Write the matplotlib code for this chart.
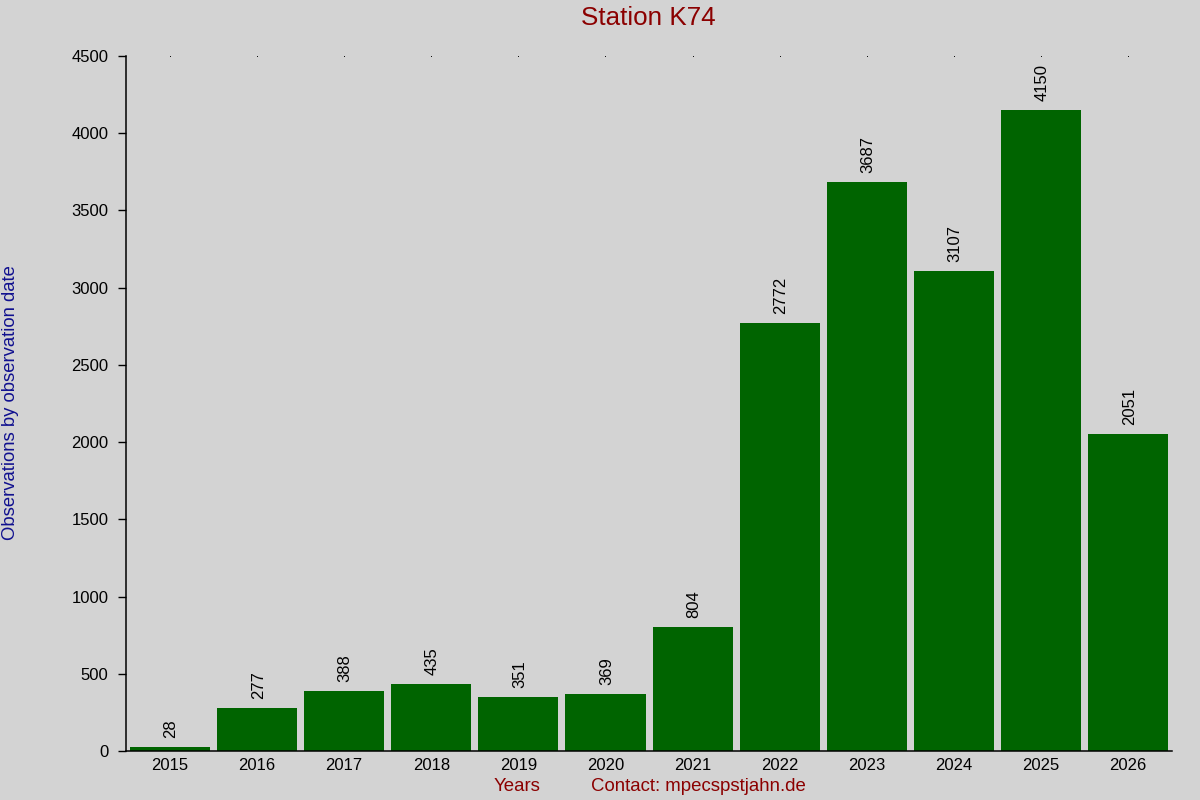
import matplotlib
matplotlib.use("Agg")
import matplotlib.pyplot as plt

years = ["2015", "2016", "2017", "2018", "2019", "2020", "2021", "2022", "2023", "2024", "2025", "2026"]
counts = [28, 277, 388, 435, 351, 369, 804, 2772, 3687, 3107, 4150, 2051]
yticks = [0, 500, 1000, 1500, 2000, 2500, 3000, 3500, 4000, 4500]

plt.rcParams['font.family'] = ['Liberation Sans', 'DejaVu Sans']
bg = '#d3d3d3'
fig = plt.figure(figsize=(12, 8), dpi=100, facecolor=bg)
ax = fig.add_axes([0.105, 0.06125, 0.8717, 0.86875], facecolor=bg)

x = list(range(len(years)))
ax.bar(x, counts, width=0.92, color='#006400')
for xi, v in zip(x, counts):
    ax.annotate(str(v), (xi, v), xytext=(0.8, 6.5), textcoords='offset points',
                rotation=90, ha='center', va='bottom', fontsize=12, color='#000000')

# small dots at top
ax.plot(x, [4500] * len(x), linestyle='none', marker='s', markersize=0.6,
        markeredgewidth=0, color='black', clip_on=False)

ax.set_xlim(-0.505, 11.505)
ax.set_ylim(0, 4500)
ax.set_yticks(yticks)
ax.set_yticklabels([str(t) for t in yticks], fontsize=12, color='#000000')
ax.set_xticks(x)
ax.set_xticklabels(years, fontsize=12, color='#000000')
ax.tick_params(axis='x', length=0, pad=5)
ax.tick_params(axis='y', length=5.5, width=1, pad=7, direction='out')
for s in ['top', 'right']:
    ax.spines[s].set_visible(False)
ax.spines['left'].set_linewidth(1.1)
ax.spines['bottom'].set_linewidth(1.1)

fig.text(0.54, 0.977, "Station K74", ha='center', va='center', fontsize=18.7, color='#8b0000')
fig.text(0.009, 0.497, "Observations by observation date", rotation=90, ha='center', va='center',
         fontsize=13.3, color='#10108f')
fig.text(0.431, 0.017, "Years", ha='center', va='center', fontsize=13.4, color='#8b0000')
fig.text(0.582, 0.017, "Contact: mpecspstjahn.de", ha='center', va='center', fontsize=13.4, color='#8b0000')

fig.savefig("out.png", dpi=100, facecolor=bg)
